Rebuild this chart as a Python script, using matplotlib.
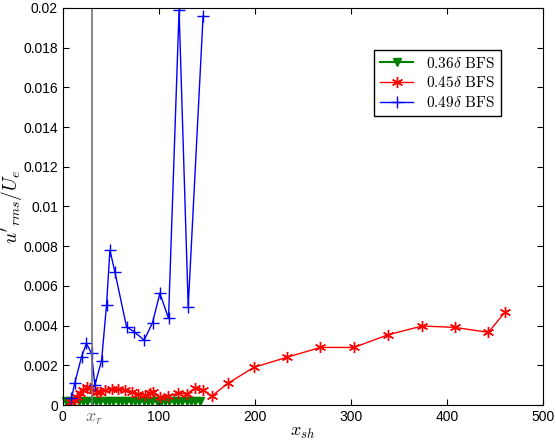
import matplotlib
matplotlib.use('Agg')
import matplotlib.pyplot as plt
import numpy as np

plt.rcParams['mathtext.fontset'] = 'cm'
plt.rcParams['font.family'] = 'Liberation Sans'

# 0.36 delta BFS
x_036 = [3, 7.5, 12, 16.5, 21, 25.5, 30, 34.5, 39, 43.5, 48, 52.5, 57, 61.5, 66,
         70.5, 75, 79.5, 84, 88.5, 93, 97.5, 102, 106.5, 111, 115.5, 120, 124.5,
         129, 133.5, 138, 142.5]
u_036 = [0.0002] * len(x_036)

# 0.45 delta BFS
x_045 = [9, 12, 15, 17.7, 21.2, 24.7, 28.1, 31.6, 35.1, 38.5, 43.8, 50.7, 57.6,
         64.6, 71.5, 78.5, 85.4, 90.6, 94, 101, 109.7, 120, 128.8, 137.5, 146,
         155, 172, 199, 233, 268, 303, 338, 374, 408, 443, 460]
u_045 = [0.00017, 0.00025, 0.0004, 0.00059, 0.00076, 0.00089, 0.00084, 0.00076,
         0.00067, 0.00067, 0.00076, 0.00079, 0.00079, 0.00076, 0.00067, 0.00055,
         0.0005, 0.00059, 0.00067, 0.00039, 0.00045, 0.00059, 0.00055, 0.00084,
         0.00076, 0.00045, 0.0011, 0.0019, 0.0024, 0.0029, 0.0029, 0.00353,
         0.00398, 0.00391, 0.00366, 0.00467]

# 0.49 delta BFS
x_049 = [9, 12.5, 19.5, 24.6, 29.9, 33.3, 40.3, 45.5, 49, 54.2, 66.3, 74, 84.7,
         93.4, 101, 110, 121, 130.5, 146]
u_049 = [0.00034, 0.00112, 0.00243, 0.0031, 0.0026, 0.001, 0.00223, 0.00504,
         0.0078, 0.0067, 0.00394, 0.0037, 0.00327, 0.00415, 0.00563, 0.00437,
         0.0199, 0.00495, 0.0196]

x_r = 30.7

fig = plt.figure(figsize=(5.56, 4.40), dpi=100)
ax = fig.add_axes([0.113, 0.0795, 0.864, 0.9025])

ax.plot(x_036, u_036, color=(0, 0.5, 0), marker='v', markersize=6, lw=1.5,
        clip_on=False, label=r'$0.36\delta\ \mathrm{BFS}$')
ax.plot(x_045, u_045, color='r', marker=(6, 2, 0), markersize=8, lw=1,
        markeredgewidth=1, label=r'$0.45\delta\ \mathrm{BFS}$')
ax.plot(x_049, u_049, color='b', marker='+', markersize=9, lw=1,
        label=r'$0.49\delta\ \mathrm{BFS}$')
ax.axvline(x_r, color='0.45', lw=1.2)

ax.set_xlim(0, 500)
ax.set_ylim(0, 0.02)
ax.set_xticks(np.arange(0, 501, 100))
ax.set_yticks(np.arange(0, 0.0201, 0.002))
ax.set_yticklabels(['0'] + ['%g' % v for v in np.arange(0.002, 0.0201, 0.002)])
ax.tick_params(direction='in', top=True, right=True, labelsize=10, length=4)
ax.text(x_r + 2, -0.00068, r'$x_r$', ha='center', va='center', fontsize=13,
        color='0.4')

ax.set_xlabel(r'$x_{sh}$', fontsize=13, va='center')
ax.xaxis.set_label_coords(0.5, -0.068)
ax.set_ylabel(r"$u'_{rms}/U_e$", fontsize=14, va='center')
ax.yaxis.set_label_coords(-0.106, 0.5)

ax.legend(loc='upper right', bbox_to_anchor=(0.927, 0.914), fancybox=False,
          edgecolor='k', fontsize=11, handlelength=2.2, borderpad=0.4,
          labelspacing=0.3, framealpha=1)

fig.savefig('out.png', dpi=100)
